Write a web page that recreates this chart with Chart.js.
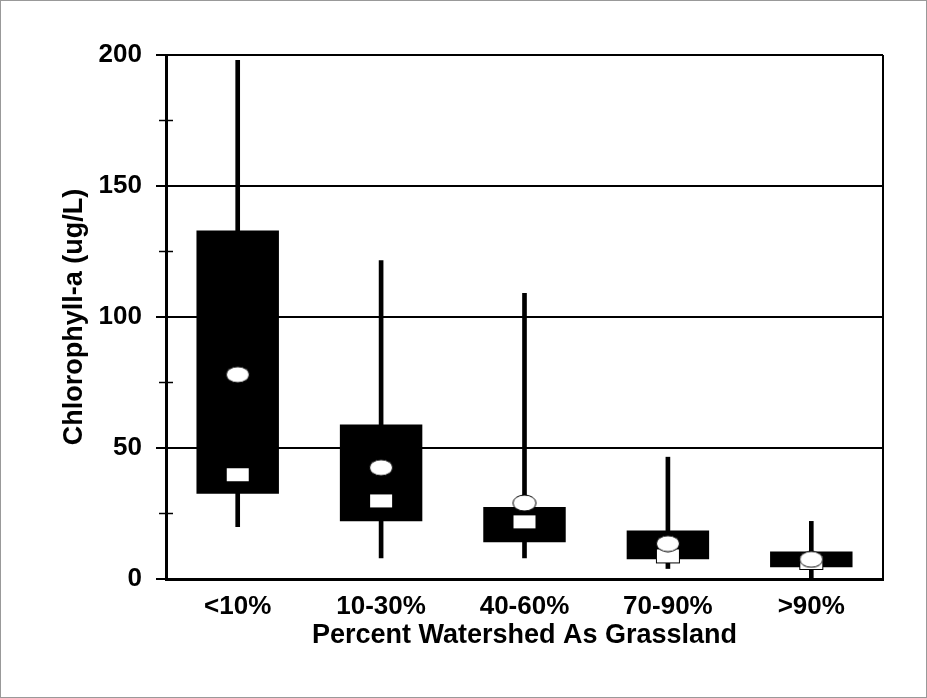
<!DOCTYPE html>
<html>
<head>
<meta charset="utf-8">
<script src="https://cdn.jsdelivr.net/npm/chart.js@4/dist/chart.umd.min.js"></script>
<style>
  body { margin: 0; background: #fff; }
  #wrap { width: 927px; height: 698px; position: relative; }
</style>
</head>
<body>
<div id="wrap"><canvas id="myChart" width="927" height="698"></canvas></div>
<script>
// categories and box plot values
var categories = ['<10%', '10-30%', '40-60%', '70-90%', '>90%'];
var whiskerLow = [20, 8, 8, 4, 0.5];
var whiskerHigh = [198, 121.5, 109, 46.5, 22];
var q1 = [32.5, 22, 14, 7.5, 4.5];
var q3 = [133, 59, 27.5, 18.5, 10.5];
var medians = [40, 30, 22, 9, 6.5];
var means = [78, 42.5, 29, 13.5, 7.5];
var yTicks = [0, 50, 100, 150, 200];
var minorTicks = [25, 75, 125, 175];

function markCanvas(kind) {
    var c = document.createElement('canvas');
    c.width = 26; c.height = 18;
    var g = c.getContext('2d');
    g.fillStyle = '#fff';
    g.strokeStyle = '#000';
    g.lineWidth = 1;
    if (kind === 'ellipse') {
        g.beginPath();
        g.ellipse(13, 9, 11.5, 8, 0, 0, Math.PI * 2);
        g.fill();
        g.stroke();
    } else {
        g.fillRect(1.5, 2.5, 23, 14);
        g.strokeRect(1.5, 2.5, 23, 14);
    }
    return c;
}

var extras = {
    id: 'extras',
    afterDraw(chart) {
        var ctx = chart.ctx;
        var a = chart.chartArea;
        var y = chart.scales.y;
        ctx.save();
        ctx.strokeStyle = '#000';
        ctx.lineWidth = 2;
        ctx.beginPath();
        ctx.moveTo(a.right, a.top);
        ctx.lineTo(a.right, a.bottom);
        ctx.stroke();
        ctx.lineWidth = 1.5;
        minorTicks.forEach(function (v) {
            var py = y.getPixelForValue(v);
            ctx.beginPath();
            ctx.moveTo(a.left - 7, py);
            ctx.lineTo(a.left + 7, py);
            ctx.stroke();
        });
        ctx.strokeStyle = '#999';
        ctx.lineWidth = 1;
        ctx.strokeRect(0.5, 0.5, chart.width - 1, chart.height - 1);
        ctx.restore();
    }
};

var tickFont = { family: '"Liberation Sans", Arial, sans-serif', weight: 'bold', size: 26 };
var titleFont = { family: '"Liberation Sans", Arial, sans-serif', weight: 'bold', size: 27 };

new Chart(document.getElementById('myChart'), {
    type: 'bar',
    data: {
        labels: categories,
        datasets: [{
            label: 'range',
            data: whiskerLow.map((v, i) => [v, whiskerHigh[i]]),
            backgroundColor: '#000',
            barThickness: 4,
            grouped: false,
            order: 4
        }, {
            label: 'box',
            data: q1.map((v, i) => [v, q3[i]]),
            backgroundColor: '#000',
            barPercentage: 0.575,
            categoryPercentage: 1,
            grouped: false,
            order: 3
        }, {
            type: 'line',
            label: 'median',
            data: medians,
            showLine: false,
            pointStyle: markCanvas('rect'),
            order: 2
        }, {
            type: 'line',
            label: 'mean',
            data: means,
            showLine: false,
            pointStyle: markCanvas('ellipse'),
            order: 1
        }]
    },
    options: {
        responsive: false,
        animation: false,
        layout: { padding: { left: 54, right: 44, top: 55, bottom: 42 } },
        plugins: { legend: { display: false }, tooltip: { enabled: false } },
        scales: {
            x: {
                grid: { display: false, drawTicks: false },
                border: { color: '#000', width: 3 },
                ticks: { color: '#000', font: tickFont, padding: 12 },
                title: { display: true, text: 'Percent Watershed As Grassland', color: '#000', font: titleFont, padding: { top: 0, bottom: 4 } },
                afterFit(scale) { scale.height = 77; }
            },
            y: {
                min: 0,
                max: 200,
                afterBuildTicks(scale) { scale.ticks = yTicks.map(v => ({ value: v })); },
                grid: { color: '#000', lineWidth: 2, tickLength: 10 },
                border: { color: '#000', width: 3 },
                ticks: { color: '#000', font: tickFont, padding: 14 },
                title: { display: true, text: 'Chlorophyll-a (ug/L)', color: '#000', font: titleFont },
                afterFit(scale) { scale.width = 112; }
            }
        }
    },
    plugins: [extras]
});
</script>
</body>
</html>
